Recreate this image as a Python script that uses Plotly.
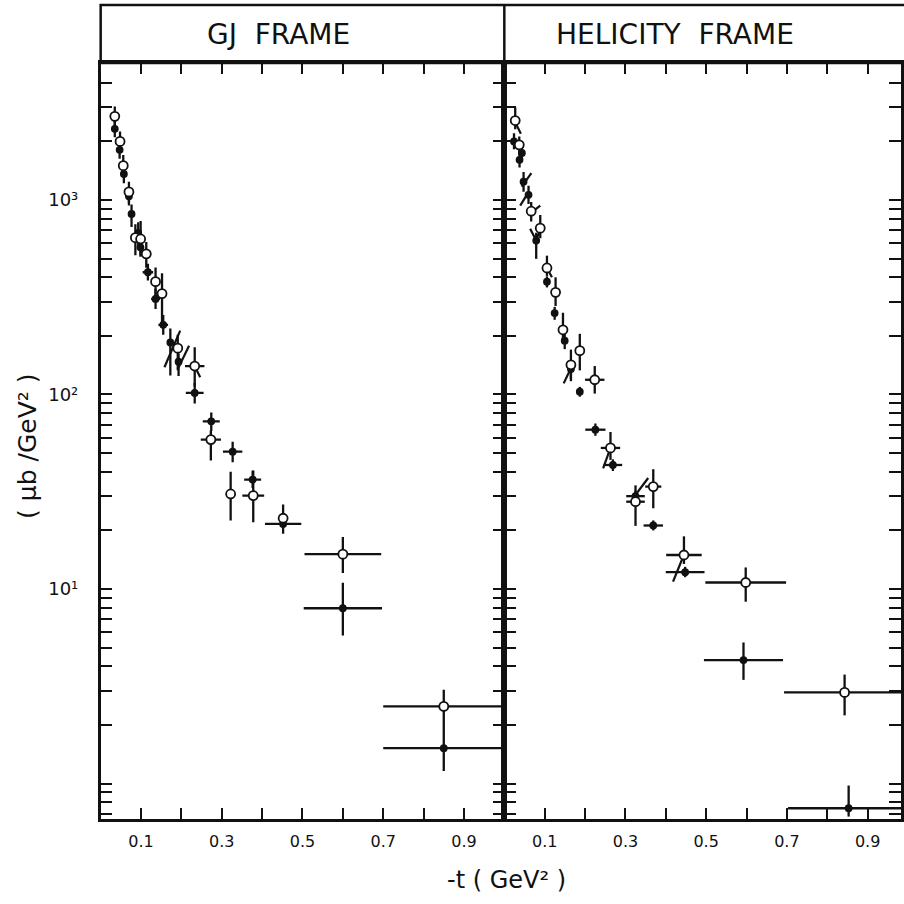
import plotly.graph_objects as go

# ---------------- data ----------------
# GJ frame, open circles
gj_open_t = [0.035, 0.048, 0.056, 0.070, 0.086, 0.099, 0.113, 0.136, 0.152, 0.191, 0.233, 0.273, 0.322, 0.378, 0.452, 0.600, 0.850]
gj_open_v = [2690, 2000, 1500, 1100, 640, 630, 528, 380, 330, 173, 140, 58.6, 30.8, 30.2, 23.1, 15.1, 2.49]
gj_open_dt = [0, 0, 0, 0, 0, 0, 0, 0, 0, 0, 0.024, 0.025, 0, 0.027, 0, 0.095, 0.15]
gj_open_up = [330, 250, 200, 140, 110, 150, 80, 70, 90, 30, 35, 6.6, 9.2, 10.4, 4.1, 3.4, 0.54]
gj_open_dn = [300, 230, 180, 130, 120, 110, 80, 60, 100, 40, 30, 12.9, 8.3, 8.2, 1.5, 3.0, 0.49]

# GJ frame, filled points
gj_fill_t = [0.035, 0.047, 0.0575, 0.070, 0.0765, 0.093, 0.0986, 0.117, 0.136, 0.155, 0.1726, 0.193, 0.233, 0.274, 0.327, 0.3765, 0.452, 0.600, 0.850]
gj_fill_v = [2320, 1810, 1360, 1045, 847, 677, 571, 425, 310, 228, 185, 147.5, 101.8, 72.8, 50.8, 36.5, 21.6, 7.96, 1.52]
gj_fill_dt = [0, 0, 0, 0, 0, 0, 0, 0.013, 0.011, 0.012, 0, 0, 0.022, 0.021, 0.024, 0.021, 0.045, 0.097, 0.15]
gj_fill_up = [250, 200, 150, 120, 100, 90, 60, 45, 40, 28, 33, 15, 13, 8, 6.3, 4.0, 1.5, 2.8, 0.48]
gj_fill_dn = [220, 180, 140, 110, 120, 90, 60, 40, 35, 25, 60, 23, 12, 8, 6.0, 3.5, 2.4, 2.2, 0.36]

# Helicity frame, open circles
he_open_t = [0.027, 0.037, 0.0666, 0.089, 0.1056, 0.127, 0.1453, 0.165, 0.187, 0.224, 0.263, 0.325, 0.369, 0.445, 0.598, 0.843]
he_open_v = [2560, 1920, 875, 716, 447, 335, 215, 142, 168, 119, 53.1, 28.1, 33.6, 14.95, 10.8, 2.94]
he_open_dt = [0, 0, 0, 0, 0, 0, 0, 0, 0, 0.024, 0.024, 0.023, 0.02, 0.044, 0.1, 0.15]
he_open_up = [430, 200, 100, 120, 70, 65, 48, 28, 37, 21, 11, 6, 7.7, 3.7, 2.1, 0.69]
he_open_dn = [250, 200, 100, 80, 40, 50, 30, 25, 35, 18, 7, 7, 7.6, 1.5, 2.2, 0.70]

# Helicity frame, filled points
he_fill_t = [0.024, 0.0377, 0.0435, 0.0477, 0.060, 0.079, 0.1056, 0.1247, 0.1496, 0.165, 0.187, 0.2256, 0.269, 0.325, 0.369, 0.448, 0.5925, 0.853]
he_fill_v = [2000, 1607, 1745, 1242, 1062, 618, 380, 262, 189, 135, 103.4, 65.9, 43.4, 30.0, 21.2, 12.2, 4.31, 0.746]
he_fill_dt = [0, 0, 0, 0.006, 0, 0, 0.007, 0.008, 0.005, 0, 0.008, 0.025, 0.023, 0.023, 0.024, 0.048, 0.098, 0.15]
he_fill_up = [200, 150, 150, 150, 120, 60, 25, 20, 20, 15, 6, 5, 3, 2, 1.3, 0.8, 1.0, 0.23]
he_fill_dn = [180, 140, 140, 140, 110, 120, 25, 20, 18, 15, 6, 4.6, 3, 2, 1.2, 0.7, 0.9, 0.07]

# slanted strokes drawn through some points (start/end in data units)
gj_slash_t = [[0.158, 0.197], [0.191, 0.219], [0.2325, 0.2466]]
gj_slash_v = [[138, 213], [135, 178], [140.6, 122.5]]
he_slash_t = [[0.0268, 0.041], [0.043, 0.067], [0.0393, 0.060], [0.0683, 0.089], [0.064, 0.079, 0.089],
              [0.1056, 0.118], [0.147, 0.168], [0.2447, 0.263], [0.317, 0.3565], [0.418, 0.445]]
he_slash_v = [[2512, 2188], [1172, 1374], [935, 1096], [865, 935], [710, 618, 710],
              [447, 400], [114, 140.6], [41.7, 53.1], [29.0, 37.2], [10.9, 15.0]]

panel_titles = ["GJ  FRAME", "HELICITY  FRAME"]
x_label_ticks = [0.1, 0.3, 0.5, 0.7, 0.9]
x_label_text = ["0.1", "0.3", "0.5", "0.7", "0.9"]
x_minor_ticks = [0.2, 0.4, 0.6, 0.8]
y_label_ticks = [10, 100, 1000]
y_label_text = ["10¹", "10²", "10³"]
y_minor_ticks = [0.7, 0.8, 0.9, 1, 2, 3, 4, 5, 6, 7, 8, 9, 20, 30, 40, 50, 60, 70, 80, 90,
                 200, 300, 400, 500, 600, 700, 800, 900, 2000, 3000, 4000, 5000]
x_title = "-t ( GeV² )"
y_title = "( μb /GeV² )"

# ---------------- figure ----------------
W = H = 904
FONT = "DejaVu Sans"
BLACK = "#111111"
fig = go.Figure()


def seg_lists(ts, vs):
    xs, ys = [], []
    for a, b in zip(ts, vs):
        xs += list(a) + [None]
        ys += list(b) + [None]
    return xs, ys


def add_series(t, v, dt, up, dn, xa, ya, filled):
    fig.add_trace(go.Scatter(
        x=t, y=v, xaxis=xa, yaxis=ya, mode="markers",
        marker=dict(size=6 if filled else 9, symbol="circle",
                    color=BLACK if filled else "white",
                    line=dict(color=BLACK, width=1.8)),
        error_x=dict(type="data", array=dt, symmetric=True, color=BLACK, thickness=2.3, width=0),
        error_y=dict(type="data", array=up, arrayminus=dn, symmetric=False, color=BLACK,
                     thickness=2.3, width=0),
        showlegend=False, hoverinfo="skip"))


for ts, vs, xa, ya in [(gj_slash_t, gj_slash_v, "x", "y"), (he_slash_t, he_slash_v, "x2", "y2")]:
    sx, sy = seg_lists(ts, vs)
    fig.add_trace(go.Scatter(x=sx, y=sy, xaxis=xa, yaxis=ya, mode="lines",
                             line=dict(color=BLACK, width=2.2), connectgaps=False,
                             showlegend=False, hoverinfo="skip"))

add_series(gj_fill_t, gj_fill_v, gj_fill_dt, gj_fill_up, gj_fill_dn, "x", "y", True)
add_series(gj_open_t, gj_open_v, gj_open_dt, gj_open_up, gj_open_dn, "x", "y", False)
add_series(he_fill_t, he_fill_v, he_fill_dt, he_fill_up, he_fill_dn, "x2", "y2", True)
add_series(he_open_t, he_open_v, he_open_dt, he_open_up, he_open_dn, "x2", "y2", False)

# pixel geometry
xl0, xmid, xr1 = 101, 506, 904
ytop, ybot = 63, 819
px_per_unit = 405.0
dom_y = [(H - ybot) / H, (H - ytop) / H]

common_x = dict(showgrid=False, zeroline=False, showline=True, linecolor=BLACK, linewidth=2.5,
                mirror="ticks", ticks="inside", ticklen=11, tickwidth=2, tickcolor=BLACK,
                tickvals=x_label_ticks, ticktext=x_label_text,
                minor=dict(tickvals=x_minor_ticks, ticks="inside", ticklen=11, tickwidth=2,
                           tickcolor=BLACK, showgrid=False),
                tickfont=dict(family=FONT, size=16, color=BLACK), ticklabelstandoff=6)
common_y = dict(type="log", range=[-0.1825, 3.704], domain=dom_y, showgrid=False, zeroline=False,
                showline=True, linecolor=BLACK, linewidth=2.5, mirror="ticks", ticks="inside",
                ticklen=12, tickwidth=2, tickcolor=BLACK, tickvals=y_label_ticks, ticktext=y_label_text,
                minor=dict(tickvals=y_minor_ticks, ticks="inside", ticklen=12, tickwidth=2,
                           tickcolor=BLACK, showgrid=False),
                tickfont=dict(family=FONT, size=18, color=BLACK))

fig.update_layout(
    width=W, height=H, margin=dict(l=0, r=0, t=0, b=0),
    paper_bgcolor="white", plot_bgcolor="white",
    xaxis=dict(common_x, domain=[xl0 / W, xmid / W], range=[0, 1.0], anchor="y"),
    xaxis2=dict(common_x, domain=[xmid / W, 1.0], range=[0, (xr1 - xmid) / px_per_unit], anchor="y2"),
    yaxis=dict(common_y, anchor="x", ticklabelstandoff=16),
    yaxis2=dict(common_y, anchor="x2", showticklabels=False),
)

# title box above both panels
fig.add_shape(type="rect", xref="paper", yref="paper", x0=xl0 / W, x1=1.02,
              y0=(H - ytop) / H, y1=(H - 5) / H, line=dict(color=BLACK, width=2.5))
fig.add_shape(type="line", xref="paper", yref="paper", x0=xmid / W, x1=xmid / W,
              y0=(H - ytop) / H, y1=(H - 5) / H, line=dict(color=BLACK, width=2.5))

for txt, cx in zip(panel_titles, [279, 677]):
    fig.add_annotation(text=txt, xref="paper", yref="paper", x=cx / W, y=(H - 34) / H,
                       showarrow=False, xanchor="center", yanchor="middle",
                       font=dict(family=FONT, size=28, color=BLACK))

fig.add_annotation(text=x_title, xref="paper", yref="paper", x=508 / W, y=(H - 880) / H,
                   showarrow=False, xanchor="center", yanchor="middle",
                   font=dict(family=FONT, size=24, color=BLACK))
fig.add_annotation(text=y_title, xref="paper", yref="paper", x=27 / W, y=(H - 446) / H,
                   showarrow=False, xanchor="center", yanchor="middle", textangle=-90,
                   font=dict(family=FONT, size=25, color=BLACK))

fig.write_html("out.html")
